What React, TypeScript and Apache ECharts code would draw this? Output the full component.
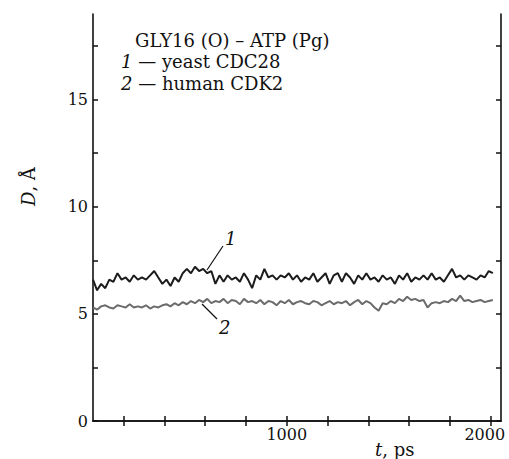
import React, { useEffect, useRef } from "react";
import * as echarts from "echarts";

// sampling: t = T_START + i * T_STEP (ps)
const T_START = 50;
const T_STEP = 20;

const yeastCDC28 = [
  6.6, 6.1, 6.4, 6.2, 6.6, 6.5, 6.9, 6.6, 6.7, 6.5,
  6.8, 6.6, 6.7, 6.6, 6.8, 7.0, 6.7, 6.4, 6.6, 6.3,
  6.7, 6.5, 6.9, 7.1, 6.9, 7.2, 7.0, 7.1, 6.9, 7.0,
  6.4, 6.8, 6.5, 6.8, 6.6, 6.7, 6.5, 6.9, 6.6, 6.2,
  6.8, 6.6, 7.1, 6.7, 6.8, 6.6, 6.8, 6.7, 6.9, 6.6,
  6.8, 6.5, 6.7, 6.6, 6.9, 6.5, 6.7, 6.9, 6.4, 6.8,
  6.9, 6.5, 6.9, 6.7, 6.4, 6.8, 6.6, 6.9, 6.6, 6.7,
  6.5, 6.8, 6.6, 6.7, 6.4, 6.8, 6.6, 6.9, 6.5, 6.7,
  6.6, 6.8, 6.6, 6.9, 6.6, 6.7, 6.5, 6.8, 7.1, 6.7,
  6.8, 6.6, 6.8, 6.7, 6.6, 6.8, 6.7, 7.0, 6.9,
];

const humanCDK2 = [
  5.3, 5.2, 5.35, 5.4, 5.3, 5.25, 5.4, 5.35, 5.3, 5.45,
  5.3, 5.35, 5.3, 5.4, 5.25, 5.35, 5.3, 5.4, 5.45, 5.35,
  5.5, 5.4, 5.55, 5.45, 5.6, 5.5, 5.65, 5.55, 5.7, 5.5,
  5.6, 5.55, 5.7, 5.5, 5.65, 5.6, 5.45, 5.7, 5.55, 5.6,
  5.5, 5.65, 5.45, 5.6, 5.55, 5.4, 5.6, 5.5, 5.65, 5.45,
  5.55, 5.6, 5.5, 5.45, 5.6, 5.55, 5.4, 5.5, 5.6, 5.45,
  5.55, 5.5, 5.6, 5.4, 5.55, 5.65, 5.45, 5.6, 5.5, 5.3,
  5.15, 5.5, 5.45, 5.6, 5.5, 5.7, 5.6, 5.8, 5.65, 5.7,
  5.6, 5.65, 5.3, 5.5, 5.55, 5.5, 5.6, 5.55, 5.7, 5.6,
  5.85, 5.6, 5.65, 5.55, 5.6, 5.65, 5.55, 5.6, 5.65,
];

const xTicks = [200, 400, 600, 800, 1000, 1200, 1400, 1600, 1800, 2000];
const xLabels = [1000, 2000];
const yTicks = [0, 2.5, 5, 7.5, 10, 12.5, 15, 17.5];
const yLabels = [0, 5, 10, 15];

const FONT = "DejaVu Serif";
const SIZE = 18;
const TICK_SIZE = 16;

export default function App() {
  const ref = useRef<HTMLDivElement>(null);
  useEffect(() => {
    if (!ref.current) return;
    const chart = echarts.init(ref.current, null, { renderer: "svg" });
    const toPairs = (arr: number[]) => arr.map((v, i) => [T_START + i * T_STEP, v]);
    const axisLine = { show: true, lineStyle: { color: "#111", width: 1.6 } };
    const tick = (vals: number[]) => ({
      show: true,
      inside: true,
      length: 5,
      customValues: vals,
      lineStyle: { color: "#111", width: 1.5 },
    });
    const label = {
      fontFamily: FONT,
      fontSize: TICK_SIZE,
      color: "#111",
    };
    const txt = (extra: any) => ({
      fontFamily: FONT,
      fontSize: SIZE,
      fill: "#111",
      ...extra,
    });
    const italic = { i: { fontStyle: "italic", fontFamily: FONT, fontSize: SIZE, fill: "#111" } };
    chart.setOption({
      animation: false,
      backgroundColor: "#fff",
      textStyle: { fontFamily: FONT },
      grid: { left: 93, right: 8, top: 14, bottom: 38, containLabel: false, outerBoundsMode: "none" },
      xAxis: [
        {
          type: "value",
          min: 50,
          max: 2050,
          position: "bottom",
          axisLine,
          axisTick: tick(xTicks),
          axisLabel: {
            ...label,
            margin: 5,
            customValues: xLabels,
            formatter: (v: number) => (v === 2000 ? `{r|${v}}` : String(v)),
            rich: {
              r: { fontFamily: FONT, fontSize: TICK_SIZE, color: "#111", padding: [0, 12, 0, 0] },
            },
          },
          splitLine: { show: false },
        },
        {
          type: "value",
          min: 50,
          max: 2050,
          position: "top",
          axisLine,
          axisTick: tick(xTicks),
          axisLabel: { show: false },
          splitLine: { show: false },
        },
      ],
      yAxis: [
        {
          type: "value",
          min: 0,
          max: 19,
          position: "left",
          axisLine,
          axisTick: tick(yTicks),
          axisLabel: {
            ...label,
            margin: 5,
            customValues: yLabels,
            formatter: (v: number) => String(v),
          },
          splitLine: { show: false },
        },
        {
          type: "value",
          min: 0,
          max: 19,
          position: "right",
          axisLine,
          axisTick: tick(yTicks),
          axisLabel: { show: false },
          splitLine: { show: false },
        },
      ],
      series: [
        {
          name: "yeast CDC28",
          type: "line",
          data: toPairs(yeastCDC28),
          showSymbol: false,
          lineStyle: { color: "#1c1c1c", width: 2 },
          itemStyle: { color: "#1c1c1c" },
        },
        {
          name: "human CDK2",
          type: "line",
          data: toPairs(humanCDK2),
          showSymbol: false,
          lineStyle: { color: "#6b6b6b", width: 2 },
          itemStyle: { color: "#6b6b6b" },
        },
      ],
      graphic: [
        {
          type: "text",
          x: 135,
          y: 31,
          style: txt({ text: "GLY16 (O) – ATP (Pg)" }),
        },
        {
          type: "text",
          x: 121,
          y: 52,
          style: txt({ text: "{i|1} — yeast CDC28", rich: italic }),
        },
        {
          type: "text",
          x: 121,
          y: 74,
          style: txt({ text: "{i|2} — human CDK2", rich: italic }),
        },
        {
          type: "text",
          x: 19,
          y: 206,
          rotation: Math.PI / 2,
          style: txt({ text: "{i|D}, Å", rich: italic }),
        },
        {
          type: "text",
          x: 375,
          y: 440,
          style: txt({ text: "{i|t}, ps", rich: italic }),
        },
        {
          type: "text",
          x: 225,
          y: 229,
          style: txt({ text: "1", fontStyle: "italic" }),
        },
        {
          type: "line",
          shape: { x1: 223, y1: 246, x2: 207, y2: 270 },
          style: { stroke: "#111", lineWidth: 1.2 },
        },
        {
          type: "text",
          x: 219,
          y: 318,
          style: txt({ text: "2", fontStyle: "italic" }),
        },
        {
          type: "line",
          shape: { x1: 202, y1: 304, x2: 217, y2: 319 },
          style: { stroke: "#111", lineWidth: 1.2 },
        },
      ],
    });
    return () => chart.dispose();
  }, []);
  return (
    <div
      ref={ref}
      style={{ position: "absolute", left: 0, top: 0, width: 509, height: 459 }}
    />
  );
}
